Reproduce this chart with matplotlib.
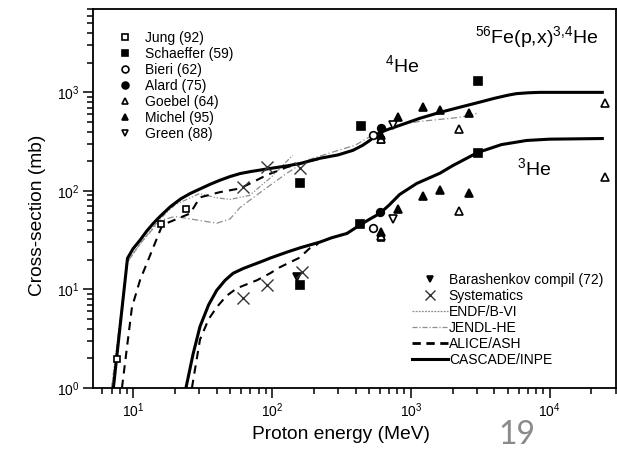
import numpy as np
import matplotlib
matplotlib.use("Agg")
import matplotlib.pyplot as plt

plt.rcParams["font.family"] = ["Liberation Sans", "DejaVu Sans"]
plt.rcParams["mathtext.fontset"] = "custom"
plt.rcParams["mathtext.rm"] = "Liberation Sans"
plt.rcParams["mathtext.it"] = "Liberation Sans:italic"
plt.rcParams["mathtext.bf"] = "Liberation Sans:bold"

# CASCADE/INPE calculation, 4He and 3He (energy in MeV, cross-section in mb)
cas4_e = [7.2, 9.1, 10.0, 11.2, 12.5, 14.0, 15.6, 18.5, 22, 25.7, 30, 36, 42, 50, 59, 70, 92, 130, 160, 221, 300,
          383, 450, 507, 598, 700, 832, 1160, 1620, 2200, 3135, 4000, 5000, 5760, 7000, 8500, 12000, 24000]
cas4_s = [1.0, 20.7, 26, 31.6, 39, 47, 55, 69, 83, 94, 104, 117, 128, 140, 150, 157, 167, 180, 190, 214, 232,
          258, 290, 325, 392, 425, 462, 545, 626, 700, 795, 870, 935, 970, 990, 1000, 1000, 1000]
cas3_e = [24, 27, 30.3, 35, 40, 46, 52.5, 62, 73, 85, 97, 128, 160, 221, 270, 347, 430, 510, 598, 700, 832,
          1104, 1620, 2000, 3030, 4500, 6840, 10000, 24000]
cas3_s = [1.0, 2.2, 4.2, 7.0, 9.8, 12.4, 14.6, 16.3, 17.8, 19.3, 20.8, 23.9, 26.5, 30.2, 33.5, 37, 45, 52, 59,
          72, 92, 119, 151, 180, 245, 295, 325, 335, 340]

# ALICE/ASH calculation
ali4_e = [8.3, 9.8, 11.2, 13.7, 16.2, 20.7, 25.7, 30.3, 42, 59, 92, 128, 175, 220]
ali4_s = [1.0, 6.6, 12.4, 25, 45, 52, 59, 86, 97, 106, 145, 174, 196, 212]
ali3_e = [26.5, 30.3, 35, 40, 47, 56, 78, 97, 114, 158, 186, 215]
ali3_s = [1.0, 3.1, 5.0, 6.6, 8.6, 10.3, 12.4, 14.6, 16.8, 21, 26, 29]

# ENDF/B-VI evaluation (up to 150 MeV)
endf_e = [7.0, 9.1, 11.2, 15.6, 20, 30, 40, 50, 69, 100, 141]
endf_s = [1.0, 19, 29, 52, 72, 94, 85, 82, 90, 140, 230]

# JENDL-HE evaluation
jendl_e = [7.0, 9.1, 11.2, 15.6, 20, 25.7, 40, 50, 59, 86, 128, 178, 260, 400, 550, 800, 1160, 2250, 2985]
jendl_s = [1.0, 19, 29, 50, 55, 52, 47, 52, 68, 101, 151, 204, 242, 292, 380, 465, 507, 557, 611]

# measured data, 4He then 3He
jung_e = [7.7, 15.9, 24, 608, 608]
jung_s = [1.97, 45.9, 65, 330, 33]
schaeffer_e = [159, 437, 3030, 159, 430, 3030]
schaeffer_s = [119, 451, 1290, 11, 45.7, 240]
bieri_e = [533, 533]
bieri_s = [366, 41.7]
alard_e = [608, 598]
alard_s = [431, 60.7]
goebel_e = [608, 2215, 24900, 608, 2215, 24900]
goebel_s = [340, 421, 772, 35, 63, 137]
michel_e = [608, 806, 1220, 1620, 2610, 608, 806, 1220, 1620, 2610]
michel_s = [365, 557, 703, 656, 611, 38, 65, 88, 101, 94.6]
green_e = [742, 742]
green_s = [462, 51.5]
barash_e = [151]
barash_s = [13.3]
syst_e = [62, 92, 159, 62, 92, 164]
syst_s = [109, 174, 170, 8.2, 11.1, 15]

fig = plt.figure(figsize=(6.17, 4.54), dpi=100)
ax = fig.add_axes([0.151, 0.1454, 0.847, 0.8346])
ax.set_xscale("log")
ax.set_yscale("log")

gray = "#8c8c8c"
ax.plot(endf_e, endf_s, color=gray, lw=0.9, dashes=(4, 1.5, 1, 1.5, 1, 1.5))
ax.plot(jendl_e, jendl_s, color=gray, lw=0.9, dashes=(5, 2, 1, 2))
ax.plot(ali4_e, ali4_s, color="black", lw=1.5, dashes=(4, 3))
ax.plot(ali3_e, ali3_s, color="black", lw=1.5, dashes=(4, 3))
ax.plot(cas4_e, cas4_s, color="black", lw=2.2)
ax.plot(cas3_e, cas3_s, color="black", lw=2.2)

mk = dict(ls="none", color="black", markeredgewidth=1.2)
h_jung, = ax.plot(jung_e, jung_s, marker="s", mfc="white", markersize=4.5, **mk)
h_sch, = ax.plot(schaeffer_e, schaeffer_s, marker="s", markersize=5.5, **mk)
h_bie, = ax.plot(bieri_e, bieri_s, marker="o", mfc="white", markersize=5.5, **mk)
h_ala, = ax.plot(alard_e, alard_s, marker="o", markersize=5.5, **mk)
h_goe, = ax.plot(goebel_e, goebel_s, marker="^", mfc="white", markersize=5.5, **mk)
h_mic, = ax.plot(michel_e, michel_s, marker="^", markersize=5.5, **mk)
h_gre, = ax.plot(green_e, green_s, marker="v", mfc="white", markersize=5.5, **mk)
h_bar, = ax.plot(barash_e, barash_s, marker="v", markersize=5.5, **mk)
h_sys, = ax.plot(syst_e, syst_s, marker="x", ls="none", color="#333333", markersize=8, markeredgewidth=1.0)

ax.set_xlim(5.15, 30000)
ax.set_ylim(1, 7000)

for sp in ax.spines.values():
    sp.set_linewidth(1.3)
ax.tick_params(which="both", direction="out", top=False, right=False, width=1.1, labelsize=10)
ax.tick_params(which="major", length=7, pad=3)
ax.tick_params(which="minor", length=4)

ax.set_xlabel("Proton energy (MeV)", fontsize=13.8)
ax.set_ylabel("Cross-section (mb)", fontsize=13.8)
ax.xaxis.set_label_coords(0.474, -0.1)
ax.yaxis.set_label_coords(-0.09, 0.455)

ax.text(0.73, 0.926, r"$^{56}$Fe(p,x)$^{3{,}4}$He", transform=ax.transAxes, fontsize=14, va="center")
ax.text(0.558, 0.852, r"$^{4}$He", transform=ax.transAxes, fontsize=14, va="center")
ax.text(0.811, 0.58, r"$^{3}$He", transform=ax.transAxes, fontsize=14, va="center")

leg1 = ax.legend([h_jung, h_sch, h_bie, h_ala, h_goe, h_mic, h_gre],
                 ["Jung (92)", "Schaeffer (59)", "Bieri (62)", "Alard (75)", "Goebel (64)", "Michel (95)", "Green (88)"],
                 loc="upper left", bbox_to_anchor=(0.048, 0.943), frameon=False, fontsize=10,
                 handlelength=1.0, handletextpad=0.94, labelspacing=0.15, borderpad=0, borderaxespad=0,
                 numpoints=1, markerscale=0.9)
ax.add_artist(leg1)

l_endf, = ax.plot([], [], color=gray, lw=0.9, dashes=(1.5, 1))
l_jendl, = ax.plot([], [], color=gray, lw=0.9, dashes=(4, 1.5, 1, 1.5))
l_ali, = ax.plot([], [], color="black", lw=2, dashes=(3, 2))
l_cas, = ax.plot([], [], color="black", lw=2.2)
ax.legend([h_bar, h_sys, l_endf, l_jendl, l_ali, l_cas],
          ["Barashenkov compil (72)", "Systematics", "ENDF/B-VI", "JENDL-HE", "ALICE/ASH", "CASCADE/INPE"],
          loc="upper left", bbox_to_anchor=(0.61, 0.304), frameon=False, fontsize=10,
          handlelength=2.6, handletextpad=0.05, labelspacing=0.15, borderpad=0, borderaxespad=0,
          numpoints=1, markerscale=0.9)

fig.text(0.838, 0.042, "19", fontsize=23, color="#8a8a8a", family=["Lato", "DejaVu Sans"],
         ha="center", va="center")

fig.savefig("out.png", dpi=100)
